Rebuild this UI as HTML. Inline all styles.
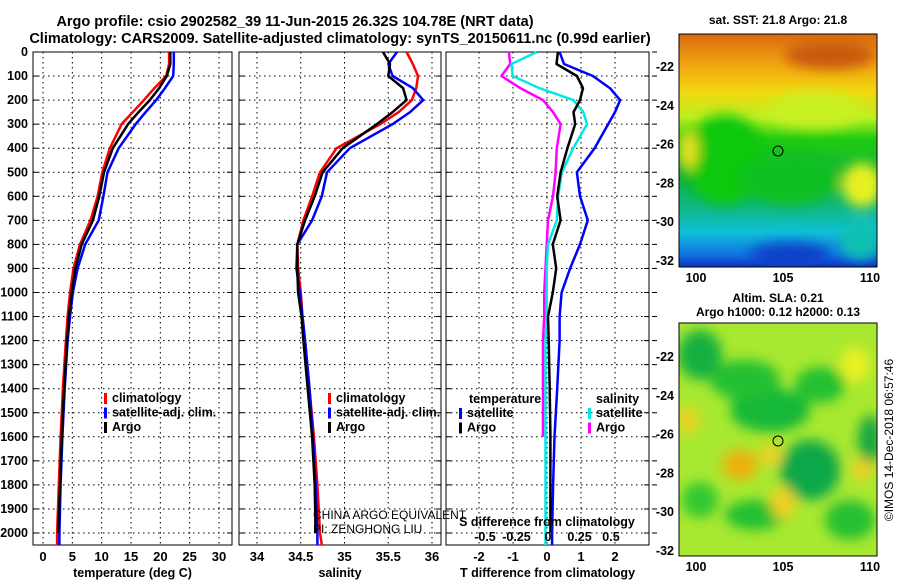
<!DOCTYPE html>
<html><head><meta charset="utf-8">
<style>
body{margin:0;background:#fff;}
svg{display:block;font-family:"Liberation Sans",Arial,sans-serif;font-weight:bold;}
</style></head>
<body>
<svg id="chart" width="900" height="580" viewBox="0 0 900 580" xmlns="http://www.w3.org/2000/svg">
<defs>
<linearGradient id="sstGrad" x1="0" y1="0" x2="0" y2="1">
<stop offset="0" stop-color="#d86a10"/><stop offset="0.12" stop-color="#f0a010"/>
<stop offset="0.25" stop-color="#f2d810"/><stop offset="0.36" stop-color="#b8f020"/>
<stop offset="0.45" stop-color="#20cc10"/><stop offset="0.62" stop-color="#10b040"/>
<stop offset="0.75" stop-color="#10b888"/><stop offset="0.85" stop-color="#10c0d8"/>
<stop offset="0.95" stop-color="#1070e0"/><stop offset="1" stop-color="#1030c0"/>
</linearGradient>
<filter id="blur6"><feGaussianBlur stdDeviation="6"/></filter>
<clipPath id="clipM1"><rect x="679" y="34" width="198" height="233"/></clipPath>
<clipPath id="clipM2"><rect x="679" y="323" width="198" height="233"/></clipPath>
</defs>
<g font-size="14.5" text-anchor="middle">
<text x="295" y="26">Argo profile: csio 2902582_39 11-Jun-2015 26.32S 104.78E (NRT data)</text>
<text x="340" y="43">Climatology: CARS2009. Satellite-adjusted climatology: synTS_20150611.nc (0.99d earlier)</text>
</g>
<g id="plots"></g>

<g>
<text x="778" y="24" font-size="12" text-anchor="middle">sat. SST: 21.8 Argo: 21.8</text>
<g clip-path="url(#clipM1)">
<rect x="679" y="34" width="198" height="233" fill="url(#sstGrad)"/>
<g filter="url(#blur6)">
<ellipse cx="725" cy="160" rx="40" ry="45" fill="#10c810"/>
<ellipse cx="790" cy="180" rx="50" ry="25" fill="#10c020"/>
<ellipse cx="862" cy="185" rx="20" ry="22" fill="#e8f020"/>
<ellipse cx="815" cy="110" rx="50" ry="18" fill="#c8f020"/>
<ellipse cx="688" cy="150" rx="10" ry="20" fill="#e8e020"/>
<ellipse cx="830" cy="55" rx="45" ry="14" fill="#c85a10"/>
<ellipse cx="790" cy="255" rx="40" ry="12" fill="#1040c8"/>
<ellipse cx="860" cy="240" rx="20" ry="20" fill="#10c0b0"/>
</g>
</g>
<rect x="679" y="34" width="198" height="233" fill="none" stroke="#000"/>
<circle cx="778" cy="151" r="5" fill="none" stroke="#000"/>
</g>
<g>
<text x="778" y="302" font-size="12" text-anchor="middle">Altim. SLA: 0.21</text>
<text x="778" y="316" font-size="12" text-anchor="middle">Argo h1000: 0.12 h2000: 0.13</text>
<g clip-path="url(#clipM2)">
<rect x="679" y="323" width="198" height="233" fill="#a8e830"/>
<g filter="url(#blur6)">
<ellipse cx="700" cy="355" rx="22" ry="25" fill="#18b040"/>
<ellipse cx="770" cy="410" rx="40" ry="22" fill="#18b838"/>
<ellipse cx="745" cy="380" rx="35" ry="20" fill="#20c030"/>
<ellipse cx="820" cy="385" rx="25" ry="18" fill="#20c030"/>
<ellipse cx="810" cy="470" rx="30" ry="30" fill="#10a848"/>
<ellipse cx="870" cy="440" rx="12" ry="25" fill="#18a840"/>
<ellipse cx="755" cy="515" rx="30" ry="15" fill="#20c030"/>
<ellipse cx="700" cy="500" rx="18" ry="18" fill="#30c830"/>
<ellipse cx="850" cy="520" rx="25" ry="20" fill="#28c030"/>
<ellipse cx="740" cy="465" rx="18" ry="15" fill="#f0b010"/>
<ellipse cx="770" cy="455" rx="12" ry="10" fill="#f0d020"/>
<ellipse cx="783" cy="503" rx="12" ry="16" fill="#f0d020"/>
<ellipse cx="688" cy="420" rx="10" ry="14" fill="#f0d020"/>
<ellipse cx="862" cy="470" rx="10" ry="12" fill="#f0d020"/>
<ellipse cx="855" cy="365" rx="15" ry="18" fill="#e8f020"/>
</g>
</g>
<rect x="679" y="323" width="198" height="233" fill="none" stroke="#000"/>
<circle cx="778" cy="441" r="5" fill="none" stroke="#000"/>
</g>
<text transform="translate(893,440) rotate(-90)" font-size="12" font-weight="normal" text-anchor="middle">©IMOS 14-Dec-2018 06:57:46</text>
</svg>
<script>
const depths = [0,50,100,150,200,250,300,400,500,600,700,800,900,1000,1100,1200,1400,1600,1800,2000,2050];
const tempClim = [21.5,21.5,21.0,19.0,17.2,15.3,13.4,11.4,10.1,9.3,8.1,6.3,5.2,4.6,4.2,3.9,3.4,3.0,2.7,2.4,2.4];
const tempSat  = [22.3,22.3,22.2,20.8,19.3,17.5,15.8,12.9,11.0,10.3,9.5,7.2,5.9,5.1,4.6,4.2,3.7,3.3,3.0,2.8,2.8];
const tempArgo = [21.7,21.7,21.1,19.8,18.2,16.3,14.5,11.9,10.4,9.6,8.5,6.6,5.5,4.9,4.4,4.1,3.6,3.2,2.9,2.6,null];
const salClim = [35.71,35.78,35.84,35.82,35.77,35.62,35.41,34.91,34.72,34.63,34.53,34.46,34.47,34.50,34.52,34.55,34.60,34.65,34.69,34.72,34.74];
const salSat  = [35.60,35.50,35.55,35.78,35.90,35.75,35.55,35.06,34.80,34.74,34.63,34.46,34.45,34.49,34.52,34.55,34.60,34.64,34.67,34.69,34.69];
const salArgo = [35.44,35.52,35.50,35.67,35.71,35.55,35.37,34.98,34.75,34.66,34.55,34.46,34.46,34.47,34.51,34.53,34.58,34.63,34.66,34.67,null];
const dTSat  = [0.37,0.5,1.35,1.85,2.15,2.0,1.8,1.4,0.88,0.97,1.2,0.97,0.68,0.43,0.37,0.37,0.30,0.22,0.18,0.15,0.15];
const dTArgo = [0.32,0.28,0.88,1.06,0.97,0.78,0.83,0.6,0.4,0.3,0.4,0.17,0.27,0.17,0.03,0.05,0.08,0.1,0.1,0.1,null];
const dSSat  = [-0.09,-0.29,-0.28,-0.07,0.2,0.28,0.31,0.2,0.11,0.08,0.07,0.0,-0.01,-0.01,-0.01,-0.02,-0.02,-0.02,-0.02,-0.02,-0.02];
const dSArgo = [-0.31,-0.3,-0.37,-0.22,-0.04,0.04,0.1,0.07,0.06,0.04,0.0,-0.01,-0.02,-0.03,-0.03,-0.04,-0.04,-0.04,null,null,null];
const depthTicks = [0,100,200,300,400,500,600,700,800,900,1000,1100,1200,1300,1400,1500,1600,1700,1800,1900,2000];
const tempTicks = [0,5,10,15,20,25,30];
const salTicks = [34,34.5,35,35.5,36];
const dTTicks = [-2,-1,0,1,2];
const dSTicks = [-0.5,-0.25,0,0.25,0.5];
const lonTicks = [100,105,110];
const latTicks = [-22,-24,-26,-28,-30,-32];

const NS='http://www.w3.org/2000/svg';
const root=document.getElementById('plots');
function mk(tag,attrs,parent){const e=document.createElementNS(NS,tag);for(const k in attrs)e.setAttribute(k,attrs[k]);(parent||root).appendChild(e);return e;}
const yTop=52, yBot=545;
const yScale=d=>yTop+d*0.2405;
function lin(d0,d1,r0,r1){return v=>r0+(v-d0)*(r1-r0)/(d1-d0);}

const panels=[
 {x0:33,x1:232,sx:lin(0,30,43,219),ticks:tempTicks,label:'temperature (deg C)',name:'temperature-panel'},
 {x0:239,x1:441,sx:lin(34,36,257,432),ticks:salTicks,label:'salinity',name:'salinity-panel'},
 {x0:446,x1:649,sx:lin(0,2,547,615),ticks:dTTicks,label:'T difference from climatology',name:'difference-panel'}
];
panels.forEach((p,pi)=>{
 const g=mk('g',{});
 
 
 depthTicks.forEach(d=>{const y=yScale(d);
  mk('line',{x1:p.x0,x2:p.x1,y1:y,y2:y,stroke:'#000','stroke-dasharray':'1.5,3.5','stroke-width':1},g);
  mk('line',{x1:p.x0,x2:p.x0+5,y1:y,y2:y,stroke:'#000'},g);mk('line',{x1:p.x1-5,x2:p.x1,y1:y,y2:y,stroke:'#000'},g);});
 p.ticks.forEach(t=>{const x=p.sx(t);
  mk('line',{x1:x,x2:x,y1:yTop,y2:yBot,stroke:'#000','stroke-dasharray':'1.5,3.5'},g);
  const tl=mk('text',{x:x,y:yBot+16,'font-size':13,'text-anchor':'middle'},g);tl.textContent=t;
  
  });
 const xl=mk('text',{x:(p.x0+p.x1)/2,y:yBot+32,'font-size':12.5,'text-anchor':'middle'},g);xl.textContent=p.label;
 
 
 if(pi===0){depthTicks.forEach(d=>{const t=mk('text',{x:28,y:yScale(d)+4,'font-size':12.5,'text-anchor':'end'},g);t.textContent=d;
  
  });}
 mk('rect',{x:p.x0,y:yTop,width:p.x1-p.x0,height:yBot-yTop,fill:'none',stroke:'#000'},g);
 p.g=g;
});
depthTicks.forEach(d=>{mk('line',{x1:652,x2:657,y1:yScale(d),y2:yScale(d),stroke:'#000'});});

const sxS=lin(0,0.5,548,611);
function series(vals,sx,color,name,g){
 let pts=[];vals.forEach((v,i)=>{if(v!==null)pts.push(sx(v).toFixed(1)+','+yScale(depths[i]).toFixed(1));});
 const pl=mk('polyline',{points:pts.join(' '),fill:'none',stroke:color,'stroke-width':2.5,'stroke-linejoin':'round'},g);
 
 
}
series(tempClim,panels[0].sx,'#ff0000','temp-climatology-line',panels[0].g);
series(tempSat,panels[0].sx,'#0000ff','temp-satellite-line',panels[0].g);
series(tempArgo,panels[0].sx,'#000','temp-argo-line',panels[0].g);
series(salClim,panels[1].sx,'#ff0000','sal-climatology-line',panels[1].g);
series(salSat,panels[1].sx,'#0000ff','sal-satellite-line',panels[1].g);
series(salArgo,panels[1].sx,'#000','sal-argo-line',panels[1].g);
series(dSArgo,sxS,'#ff00ff','dS-argo-line',panels[2].g);
series(dSSat,sxS,'#00e8e8','dS-satellite-line',panels[2].g);
series(dTArgo,panels[2].sx,'#000','dT-argo-line',panels[2].g);
series(dTSat,panels[2].sx,'#0000ff','dT-satellite-line',panels[2].g);

const sAx=mk('g',{});


const st=mk('text',{x:547,y:526,'font-size':12.5,'text-anchor':'middle'},sAx);st.textContent='S difference from climatology';
dSTicks.forEach(t=>{const tt=mk('text',{x:sxS(t),y:541,'font-size':12.5,'text-anchor':'middle'},sAx);tt.textContent=t;});

function legend(x,y,items,name){
 const g=mk('g',{});
 
 
 items.forEach((it,i)=>{const yy=y+i*14.5;
  mk('rect',{x:x,y:yy-9,width:3,height:11,fill:it[1]},g);
  const t=mk('text',{x:x+8,y:yy,'font-size':12.5},g);t.textContent=it[0];
  
  });
}
legend(104,402,[['climatology','#ff0000'],['satellite-adj. clim.','#0000ff'],['Argo','#000']],'temperature-legend');
legend(328,402,[['climatology','#ff0000'],['satellite-adj. clim.','#0000ff'],['Argo','#000']],'salinity-legend');
const lt=mk('text',{x:469,y:403,'font-size':12.5});lt.textContent='temperature';
const ls=mk('text',{x:596,y:403,'font-size':12.5});ls.textContent='salinity';
legend(459,417,[['satellite','#0000ff'],['Argo','#000']],'dT-legend');
legend(588,417,[['satellite','#00e8e8'],['Argo','#ff00ff']],'dS-legend');

const c1=mk('text',{x:313,y:519,'font-size':12,'font-weight':'normal'});c1.textContent='CHINA ARGO EQUIVALENT';


const c2=mk('text',{x:313,y:533,'font-size':12,'font-weight':'normal'});c2.textContent='PI: ZENGHONG LIU';

const lonX=lin(100,110,696,870);
[[34,267,lin(-22,-32,67,261)],[323,556,lin(-22,-32,357,551)]].forEach(m=>{
 const g=mk('g',{});
 
 
 lonTicks.forEach(l=>{const x=lonX(l);mk('line',{x1:x,x2:x,y1:m[1],y2:m[1]-4,stroke:'#000'},g);mk('line',{x1:x,x2:x,y1:m[0],y2:m[0]+4,stroke:'#000'},g);
  const t=mk('text',{x:x,y:m[1]+15,'font-size':12.5,'text-anchor':'middle'},g);t.textContent=l;});
 latTicks.forEach(l=>{const y=m[2](l);mk('line',{x1:877,x2:873,y1:y,y2:y,stroke:'#000'},g);mk('line',{x1:679,x2:683,y1:y,y2:y,stroke:'#000'},g);
  const t=mk('text',{x:674,y:y+4,'font-size':12.5,'text-anchor':'end'},g);t.textContent=l;});
});
</script>
</body></html>
